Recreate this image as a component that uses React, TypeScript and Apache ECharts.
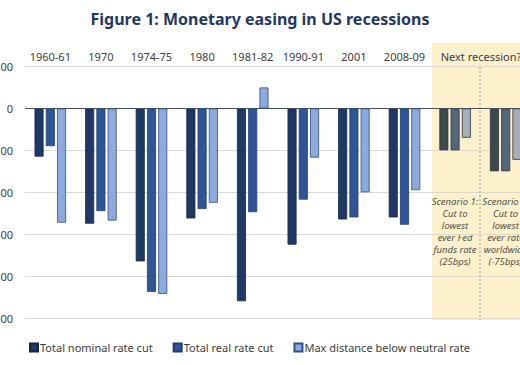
import React, { useEffect, useRef } from "react";
import * as echarts from "echarts";

const categories = ["1960-61", "1970", "1974-75", "1980", "1981-82", "1990-91", "2001", "2008-09", "Scenario 1", "Scenario 2"];
const nominalCut = [-230, -550, -730, -525, -920, -650, -530, -520, -200, -300];
const realCut = [-180, -490, -875, -480, -495, -435, -520, -555, -200, -300];
const belowNeutral = [-545, -535, -885, -450, 100, -235, -400, -390, -140, -245];
const seriesNames = ["Total nominal rate cut", "Total real rate cut", "Max distance below neutral rate"];
const scenarioTexts = [
  "Scenario 1:\nCut to\nlowest\never Fed\nfunds rate\n(25bps)",
  "Scenario 2:\nCut to\nlowest\never rate\nworldwide\n(-75bps)",
];
const yTicks = { min: -1000, max: 200, interval: 200 };

const FONT = "'Noto Sans', sans-serif";
const OFFSET = 40;

const colors = ["#203864", "#2F5597", "#8EA9DB"];
const borders = ["#15264a", "#1f3d73", "#2f4f88"];
const scenarioColors = ["#3F484F", "#55657A", "#A6AEB6"];

export default function App() {
  const ref = useRef<HTMLDivElement>(null);
  useEffect(() => {
    if (!ref.current) return;
    const chart = echarts.init(ref.current, null, { renderer: "svg" });
    const seriesData = [nominalCut, realCut, belowNeutral];
    const series: any[] = seriesData.map((arr, si) => ({
      name: seriesNames[si],
      type: "bar",
      barWidth: 9,
      barGap: "25%",
      itemStyle: { color: colors[si], borderColor: borders[si], borderWidth: 0.8 },
      data: arr.map((v, i) =>
        i >= 8
          ? { value: v, itemStyle: { color: scenarioColors[si], borderColor: "#2e3439", borderWidth: 0.8 } }
          : v
      ),
      ...(si === 0
        ? {
            markLine: {
              silent: true,
              symbol: "none",
              label: { show: false },
              lineStyle: { color: "#3E5070", width: 1.2, type: "solid" },
              data: [{ yAxis: 0 }],
            },
          }
        : {}),
    }));

    chart.setOption({
      animation: false,
      title: {
        text: "Figure 1: Monetary easing in US recessions",
        left: "center",
        top: 6,
        textStyle: { fontFamily: FONT, fontSize: 16, fontWeight: "bold", color: "#1F3864" },
      },
      legend: {
        left: 24 + OFFSET,
        top: 337,
        itemWidth: 8,
        itemHeight: 8,
        itemGap: 20,
        icon: "rect",
        textStyle: { fontFamily: FONT, fontSize: 11, color: "#404040", padding: [0, 0, 0, -3] },
        data: seriesNames,
      },
      grid: { left: 25 + OFFSET, top: 66.5, height: 251.5, width: 506 },
      xAxis: {
        type: "category",
        data: categories,
        position: "top",
        axisLine: { show: false, onZero: false },
        axisTick: { show: false },
        axisLabel: {
          fontFamily: FONT,
          fontSize: 11,
          color: "#404040",
          margin: 5,
          interval: 0,
          formatter: (v: string, i: number) => (i >= 8 ? "" : v),
        },
      },
      yAxis: {
        type: "value",
        min: yTicks.min,
        max: yTicks.max,
        interval: yTicks.interval,
        axisLine: { show: false },
        axisTick: { show: false },
        axisLabel: { fontFamily: FONT, fontSize: 11, color: "#404040", margin: 12 },
        splitLine: { lineStyle: { color: "#D9D9D9", width: 1 } },
      },
      graphic: [
        {
          type: "rect",
          z: -100,
          shape: { x: 432 + OFFSET, y: 43, width: 200, height: 277 },
          style: { fill: "#FDF0CC" },
          silent: true,
        },
        {
          type: "line",
          z: 1,
          shape: { x1: 480 + OFFSET, y1: 67, x2: 480 + OFFSET, y2: 320 },
          style: { stroke: "#999999", lineWidth: 1, lineDash: [2, 2] },
          silent: true,
        },
        {
          type: "text",
          x: 481 + OFFSET,
          y: 56,
          style: {
            text: "Next recession?",
            fontFamily: FONT,
            fontSize: 11,
            fill: "#404040",
            align: "center",
            verticalAlign: "middle",
          },
        },
        ...scenarioTexts.map((t, i) => ({
          type: "text",
          x: 455 + i * 50.6 + OFFSET,
          y: 195,
          style: {
            text: t,
            fontFamily: FONT,
            fontSize: 9.5,
            fontStyle: "italic",
            lineHeight: 12,
            fill: "#505050",
            align: "center",
            verticalAlign: "top",
          },
        })),
      ],
      series,
    });
    return () => chart.dispose();
  }, []);

  return (
    <div
      style={{
        position: "fixed",
        left: 0,
        top: 0,
        width: 520,
        height: 365,
        overflow: "hidden",
        background: "#fff",
      }}
    >
      <div ref={ref} style={{ position: "absolute", left: -OFFSET, top: 0, width: 600, height: 365 }} />
    </div>
  );
}
